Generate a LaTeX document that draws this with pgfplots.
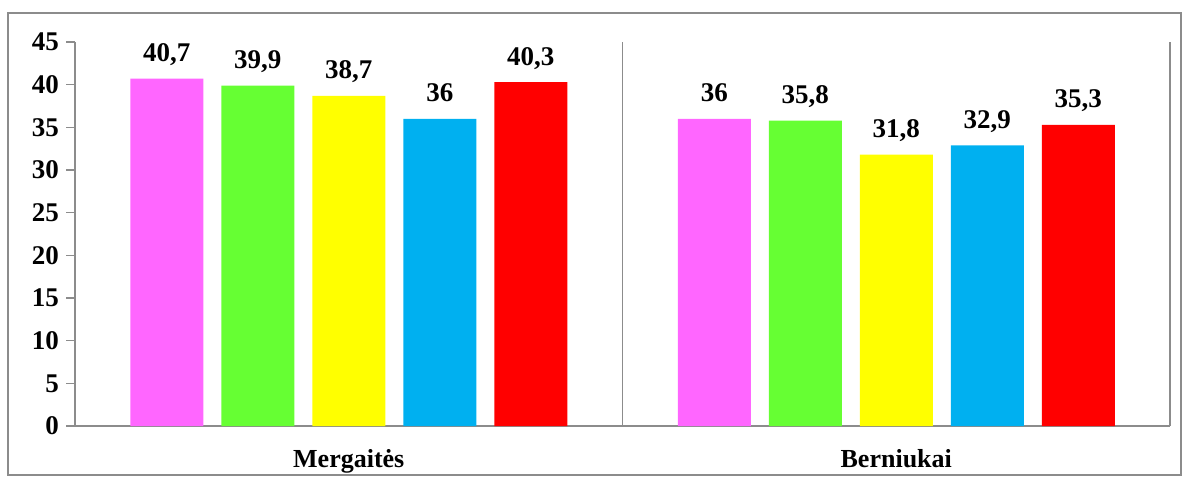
\documentclass[border=0pt]{standalone}
\usepackage{fontspec}
\setmainfont{Liberation Serif}
\usepackage{pgfplots}
\pgfplotsset{compat=1.18}
\usetikzlibrary{calc}

\definecolor{cpink}{HTML}{FF66FF}
\definecolor{cgreen}{HTML}{66FF33}
\definecolor{cyellow}{HTML}{FFFF00}
\definecolor{cblue}{HTML}{00B0F0}
\definecolor{cred}{HTML}{FF0000}
\definecolor{axgray}{HTML}{8C8C8C}

\begin{document}
\begin{tikzpicture}
\begin{axis}[
    name=ax,
    at={(0,0)}, anchor=south west,
    scale only axis,
    width=547.5pt, height=192pt,
    ybar=9pt,
    bar width=36.5pt,
    xmin=-0.5, xmax=1.5,
    ymin=0, ymax=45,
    ytick={0,5,...,45},
    xtick={0,1},
    xticklabels={Mergaitės, Berniukai},
    major x tick style={draw=none},
    extra x ticks={-0.5,0.5,1.5},
    extra x tick labels={},
    extra x tick style={grid=major, major tick length=4pt},
    major grid style={axgray, line width=0.6pt},
    axis x line*=bottom,
    axis y line*=left,
    axis line style={axgray, line width=0.8pt},
    tick style={axgray, line width=0.6pt},
    tick align=outside,
    major tick length=4.5pt,
    /pgf/number format/assume math mode=true,
    /pgf/number format/use comma,
    yticklabel style={font=\bfseries\fontsize{13.5}{15}\selectfont},
    xticklabel style={font=\bfseries\fontsize{13}{15}\selectfont, yshift=-3.5pt},
    nodes near coords,
    every node near coord/.append style={font=\bfseries\fontsize{13.5}{15}\selectfont, anchor=base, inner sep=0pt, yshift=8.5pt, black},
    clip=false,
]
\addplot[fill=cpink, draw=none] coordinates {(0,40.7) (1,36)};
\addplot[fill=cgreen, draw=none] coordinates {(0,39.9) (1,35.8)};
\addplot[fill=cyellow, draw=none] coordinates {(0,38.7) (1,31.8)};
\addplot[fill=cblue, draw=none] coordinates {(0,36) (1,32.9)};
\addplot[fill=cred, draw=none] coordinates {(0,40.3) (1,35.3)};
\end{axis}
\draw[axgray, line width=0.6pt] ($(ax.south west)+(-33.5pt,-24.5pt)$) rectangle ($(ax.south west)+(553pt,206.5pt)$);
\path[use as bounding box] ($(ax.south west)+(-37.5pt,-28pt)$) rectangle ($(ax.south west)+(555.5pt,213pt)$);
\end{tikzpicture}
\end{document}
